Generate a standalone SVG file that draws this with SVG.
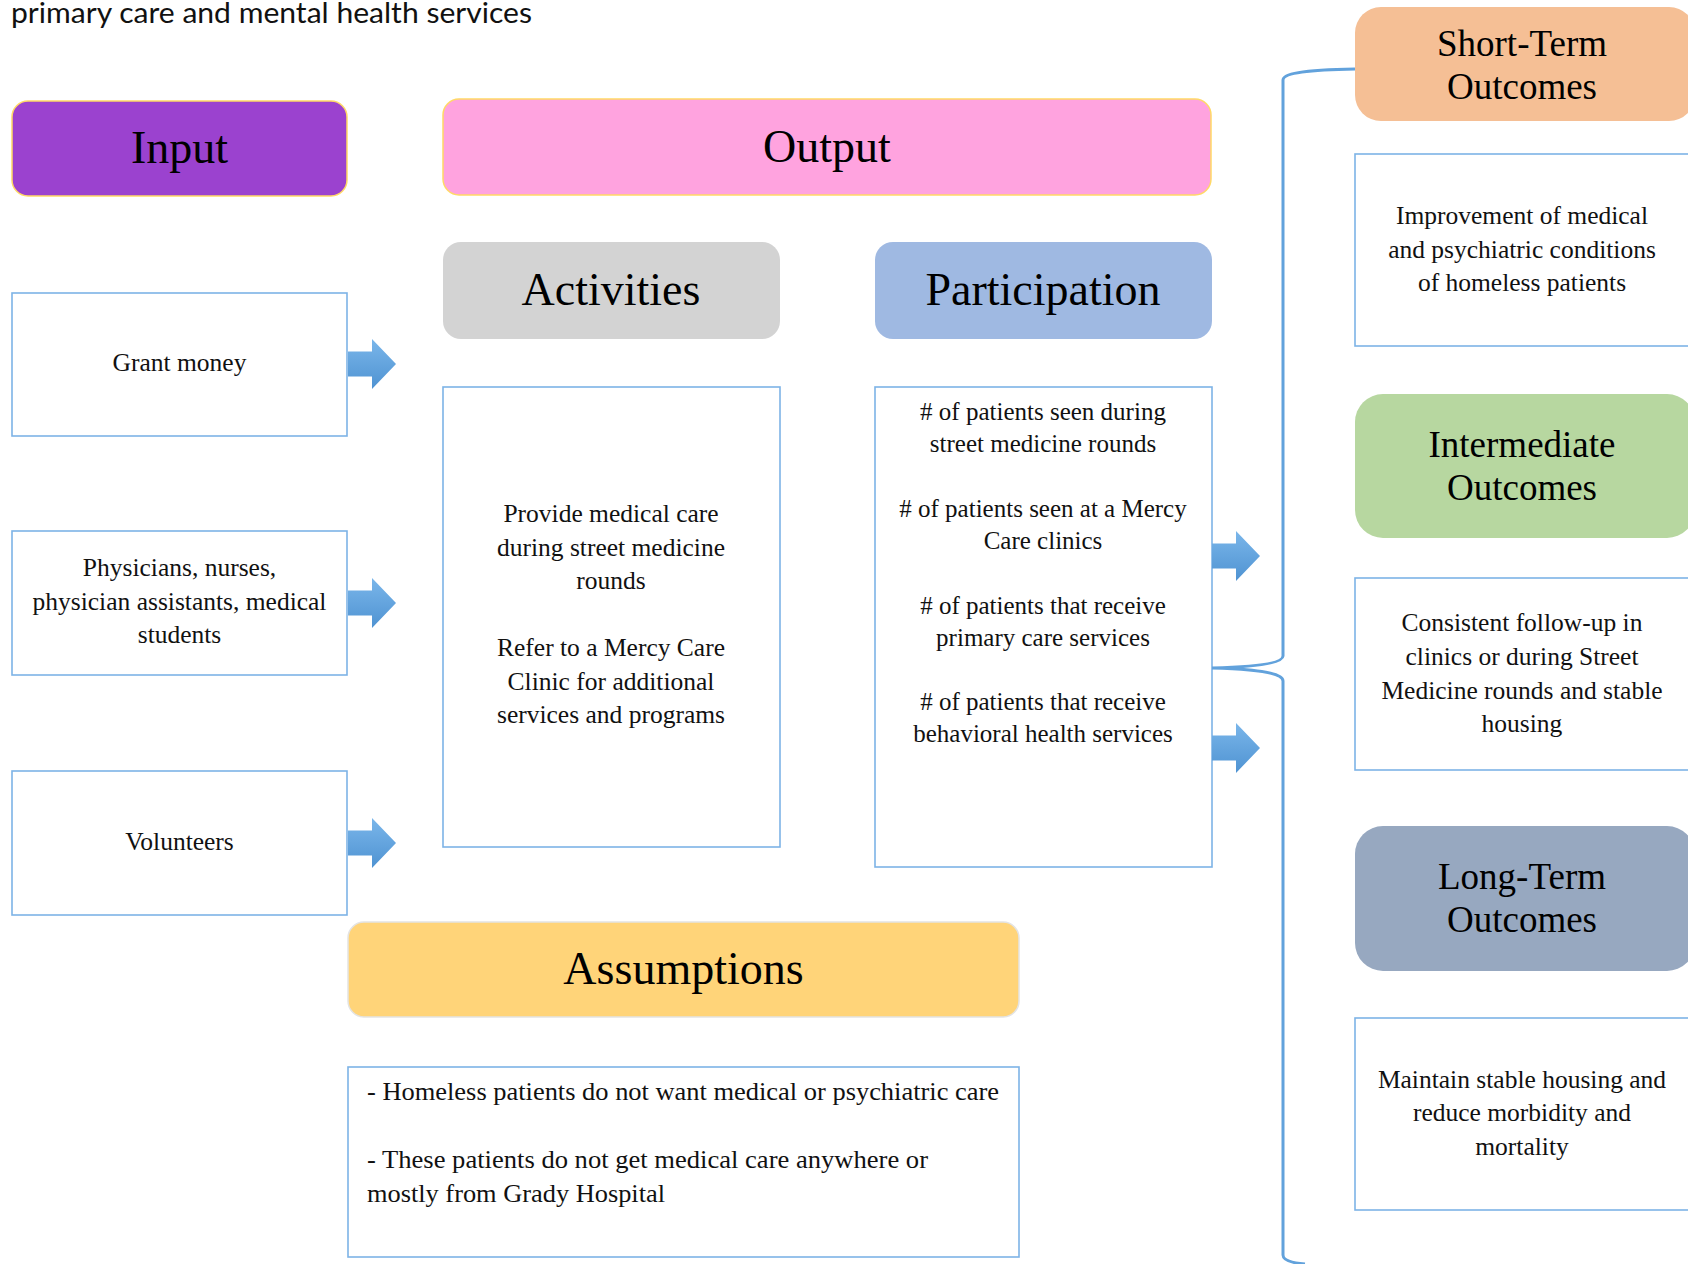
<svg xmlns="http://www.w3.org/2000/svg" width="1688" height="1264" viewBox="0 0 1688 1264">
<style>
.hd{font-family:"Liberation Serif","DejaVu Serif",serif;font-size:46px;fill:#000;text-anchor:middle}
.oh{font-family:"Liberation Serif","DejaVu Serif",serif;font-size:37px;fill:#000;text-anchor:middle}
.bt{font-family:"Liberation Serif","DejaVu Serif",serif;font-size:25.5px;fill:#111;text-anchor:middle}
.pt{font-family:"Liberation Serif","DejaVu Serif",serif;font-size:25px;fill:#111;text-anchor:middle}
.at{font-family:"Liberation Serif","DejaVu Serif",serif;font-size:25.5px;fill:#111}
.box{fill:#fff;stroke:#7db3e6;stroke-width:1.6}
.arr{fill:url(#ag)}
.br{fill:none;stroke:#62a2dc;stroke-width:3}
</style>
<defs>
<linearGradient id="ag" x1="0" y1="0" x2="0" y2="1">
<stop offset="0" stop-color="#7ab6ea"/>
<stop offset="1" stop-color="#4f93d2"/>
</linearGradient>
</defs>
<rect width="1688" height="1264" fill="#fff"/>
<text x="11" y="23" font-family="Lato,'Liberation Sans',sans-serif" font-size="28" textLength="521" lengthAdjust="spacingAndGlyphs" fill="#111">primary care and mental health services</text>

<g id="input-header"><rect x="12" y="101" width="335" height="95" rx="16" fill="#9b42cf" stroke="#ffd966" stroke-width="1.5"/><text class="hd" x="179.5" y="163">Input</text></g>
<g id="output-header"><rect x="443" y="99" width="768" height="96" rx="16" fill="#ffa3df" stroke="#ffd966" stroke-width="1.5"/><text class="hd" x="827" y="162">Output</text></g>
<g id="activities-header"><rect x="443" y="242" width="337" height="97" rx="18" fill="#d3d3d3"/><text class="hd" x="611" y="305">Activities</text></g>
<g id="participation-header"><rect x="875" y="242" width="337" height="97" rx="18" fill="#9fb9e2"/><text class="hd" x="1043" y="305">Participation</text></g>

<g id="grant-money"><rect class="box" x="12" y="293" width="335" height="143"/><text class="bt" x="179.5" y="371">Grant money</text></g>
<g id="physicians"><rect class="box" x="12" y="531" width="335" height="144"/><text class="bt" x="179.5" y="576">Physicians, nurses,</text><text class="bt" x="179.5" y="610">physician assistants, medical</text><text class="bt" x="179.5" y="643">students</text></g>
<g id="volunteers"><rect class="box" x="12" y="771" width="335" height="144"/><text class="bt" x="179.5" y="850">Volunteers</text></g>

<g id="activities"><rect class="box" x="443" y="387" width="337" height="460"/>
<text class="bt" x="611" y="522">Provide medical care</text><text class="bt" x="611" y="556">during street medicine</text><text class="bt" x="611" y="589">rounds</text>
<text class="bt" x="611" y="656">Refer to a Mercy Care</text><text class="bt" x="611" y="690">Clinic for additional</text><text class="bt" x="611" y="723">services and programs</text></g>

<g id="participation"><rect class="box" x="875" y="387" width="337" height="480"/>
<text class="pt" x="1043" y="420">#  of patients seen during</text><text class="pt" x="1043" y="452">street medicine rounds</text>
<text class="pt" x="1043" y="517">#  of patients seen at a Mercy</text><text class="pt" x="1043" y="549">Care clinics</text>
<text class="pt" x="1043" y="614">#  of patients that receive</text><text class="pt" x="1043" y="646">primary care services</text>
<text class="pt" x="1043" y="710">#  of patients that receive</text><text class="pt" x="1043" y="742">behavioral health services</text></g>

<g id="assumptions-header"><rect x="348" y="922" width="671" height="95" rx="16" fill="#ffd479" stroke="#e3e3e3" stroke-width="1.5"/><text class="hd" x="683.5" y="984">Assumptions</text></g>
<g id="assumptions"><rect class="box" x="348" y="1067" width="671" height="190"/>
<text class="at" x="367" y="1100" textLength="632" lengthAdjust="spacingAndGlyphs">- Homeless patients do not want medical or psychiatric care</text>
<text class="at" x="367" y="1168" textLength="561" lengthAdjust="spacingAndGlyphs">- These patients do not get medical care anywhere or</text>
<text class="at" x="367" y="1202" textLength="298" lengthAdjust="spacingAndGlyphs">mostly from Grady Hospital</text></g>

<g id="short-term-header"><rect x="1355" y="7" width="340" height="114" rx="26" fill="#f5bf95"/><text class="oh" x="1522" y="56">Short-Term</text><text class="oh" x="1522" y="99">Outcomes</text></g>
<g id="short-term"><rect class="box" x="1355" y="154" width="345" height="192"/><text class="bt" x="1522" y="224">Improvement of medical</text><text class="bt" x="1522" y="258">and psychiatric conditions</text><text class="bt" x="1522" y="291">of homeless patients</text></g>
<g id="intermediate-header"><rect x="1355" y="394" width="340" height="144" rx="28" fill="#b7d7a0"/><text class="oh" x="1522" y="457">Intermediate</text><text class="oh" x="1522" y="500">Outcomes</text></g>
<g id="intermediate"><rect class="box" x="1355" y="578" width="345" height="192"/><text class="bt" x="1522" y="631">Consistent follow-up in</text><text class="bt" x="1522" y="665">clinics or during Street</text><text class="bt" x="1522" y="699">Medicine rounds and stable</text><text class="bt" x="1522" y="732">housing</text></g>
<g id="long-term-header"><rect x="1355" y="826" width="340" height="145" rx="28" fill="#97a8c0"/><text class="oh" x="1522" y="889">Long-Term</text><text class="oh" x="1522" y="932">Outcomes</text></g>
<g id="long-term"><rect class="box" x="1355" y="1018" width="345" height="192"/><text class="bt" x="1522" y="1088">Maintain stable housing and</text><text class="bt" x="1522" y="1121">reduce morbidity and</text><text class="bt" x="1522" y="1155">mortality</text></g>

<g id="connectors">
<path class="arr" d="M348,351.5 H372 V339 L396,364 L372,389 V376.5 H348 Z"/>
<path class="arr" d="M348,590.5 H372 V578 L396,603 L372,628 V615.5 H348 Z"/>
<path class="arr" d="M348,830.5 H372 V818 L396,843 L372,868 V855.5 H348 Z"/>
<path class="arr" d="M1212,543.5 H1236 V531 L1260,556 L1236,581 V568.5 H1212 Z"/>
<path class="arr" d="M1212,735.5 H1236 V723 L1260,748 L1236,773 V760.5 H1212 Z"/>
<path class="br" d="M1355,69 C1300,70 1283,74 1283,80 L1283,656 C1283,664 1250,667 1212,668 C1250,669 1283,672 1283,681 L1283,1255 C1283,1260 1292,1263 1305,1264"/>
</g>
</svg>
